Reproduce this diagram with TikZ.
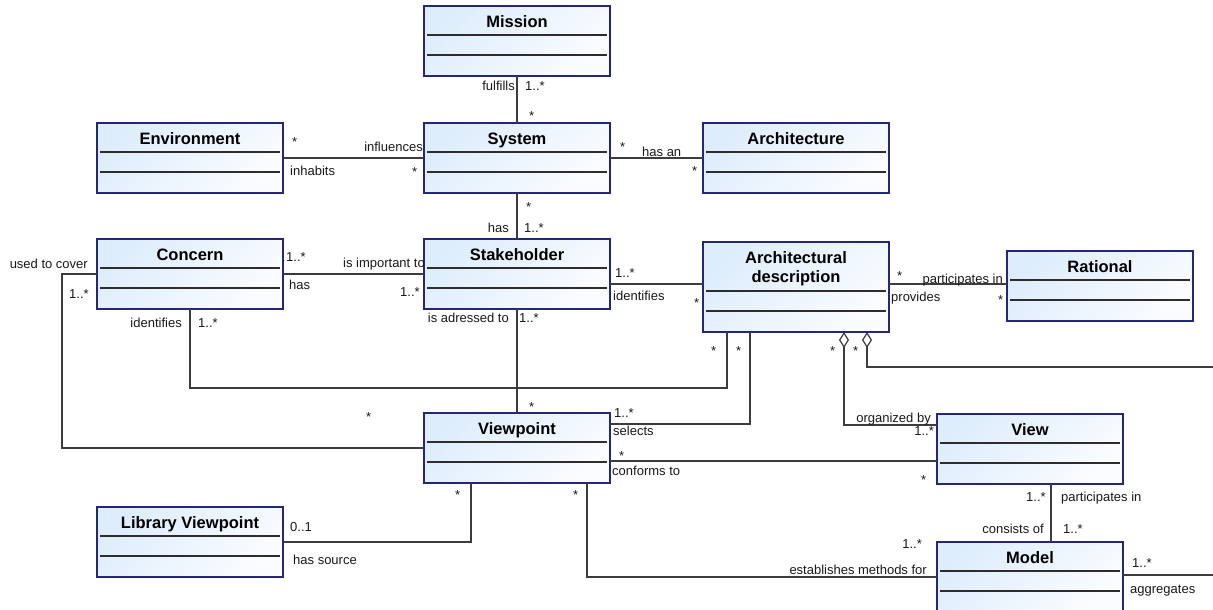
\documentclass[tikz,border=0pt]{standalone}
\usepackage{fontspec}
\setmainfont{Liberation Sans}
\usetikzlibrary{arrows.meta,calc}

\definecolor{clsborder}{RGB}{38,38,120}
\definecolor{clstop}{RGB}{222,237,252}
\definecolor{clsbot}{RGB}{250,252,255}
\definecolor{compcol}{RGB}{45,45,45}
\definecolor{wirecol}{RGB}{60,60,60}
\definecolor{lblcol}{RGB}{25,25,25}

\tikzset{
  umlclass/.style={draw=clsborder, line width=1.2pt, top color=clstop, bottom color=clsbot,
    shading angle=45, minimum width=186pt, minimum height=70pt, inner sep=0pt, outer sep=0pt,
    path picture={
      \draw[compcol, line width=1.4pt] ([xshift=3pt,yshift=-#1pt]path picture bounding box.north west)
        -- ([xshift=-3pt,yshift=-#1pt]path picture bounding box.north east);
      \draw[compcol, line width=1.4pt] ([xshift=3pt,yshift=-#1pt-20pt]path picture bounding box.north west)
        -- ([xshift=-3pt,yshift=-#1pt-20pt]path picture bounding box.north east);
    }},
  umlclass/.default=29,
  umltitle/.style={font=\fontsize{16.5}{19}\selectfont\bfseries, text=black, inner sep=0pt, align=center},
  lbl/.style={font=\fontsize{13}{13}\selectfont, text=lblcol, inner sep=0pt},
  wire/.style={draw=wirecol, line width=1.3pt},
  aggr/.style={wire, {Diamond[open, length=16pt, width=10pt, line width=1.2pt]}-}
}

\begin{document}
\begin{tikzpicture}[x=1pt,y=-1pt]
\clip (0,0) rectangle (1213,610);
\fill[white] (0,0) rectangle (1213,610);

% classes
\node[umlclass] (mission) at (517,41) {};
\node[umltitle, anchor=base] (mission-t) at ([yshift=-22pt]mission.north) {Mission};
\node[umlclass] (environment) at (190,158) {};
\node[umltitle, anchor=base] (environment-t) at ([yshift=-21pt]environment.north) {Environment};
\node[umlclass] (system) at (517,158) {};
\node[umltitle, anchor=base] (system-t) at ([yshift=-21pt]system.north) {System};
\node[umlclass] (architecture) at (796,158) {};
\node[umltitle, anchor=base] (architecture-t) at ([yshift=-21pt]architecture.north) {Architecture};
\node[umlclass] (concern) at (190,274) {};
\node[umltitle, anchor=base] (concern-t) at ([yshift=-21pt]concern.north) {Concern};
\node[umlclass] (stakeholder) at (517,274) {};
\node[umltitle, anchor=base] (stakeholder-t) at ([yshift=-21pt]stakeholder.north) {Stakeholder};
\node[umlclass=49, minimum height=90pt] (archdesc) at (796,287) {};
\node[umltitle] (archdesc-t) at ([yshift=-27pt]archdesc.north) {Architectural\\description};
\node[umlclass] (rational) at (1100,286) {};
\node[umltitle, anchor=base] (rational-t) at ([yshift=-21pt]rational.north) {Rational};
\node[umlclass] (viewpoint) at (517,448) {};
\node[umltitle, anchor=base] (viewpoint-t) at ([yshift=-21pt]viewpoint.north) {Viewpoint};
\node[umlclass] (view) at (1030,449) {};
\node[umltitle, anchor=base] (view-t) at ([yshift=-21pt]view.north) {View};
\node[umlclass] (libview) at (190,542) {};
\node[umltitle, anchor=base] (libview-t) at ([yshift=-21pt]libview.north) {Library Viewpoint};
\node[umlclass] (model) at (1030,577) {};
\node[umltitle, anchor=base] (model-t) at ([yshift=-21pt]model.north) {Model};

% associations
\coordinate (aggr-end) at (1213,367);
\coordinate (model-end) at (1213,575);
\draw[wire] (mission.south) -- (system.north);
\draw[wire] (environment.east) -- (system.west);
\draw[wire] (system.east) -- (architecture.west);
\draw[wire] (system.south) -- (stakeholder.north);
\draw[wire] (concern.east) -- (stakeholder.west);
\draw[wire] ([yshift=-10pt]stakeholder.east) coordinate (sh-r) -- (sh-r -| archdesc.west);
\draw[wire] ([yshift=3pt]archdesc.east) coordinate (ad-r) -- (ad-r -| rational.west);
\draw[wire] (stakeholder.south) -- (viewpoint.north);
\draw[wire] (concern.west) -- ++(-35,0) |- (viewpoint.west);
\draw[wire] (concern.south) -- ++(0,79) -| ([xshift=-69pt]archdesc.south);
\draw[wire] ([yshift=24pt]viewpoint.east) -| ([xshift=-46pt]archdesc.south);
\draw[aggr] ([xshift=48pt]archdesc.south) |- ([yshift=24pt]view.west);
\draw[aggr] ([xshift=71pt]archdesc.south) |- (aggr-end);
\draw[wire] ([yshift=-13pt]viewpoint.east) coordinate (vp-r) -- (vp-r -| view.west);
\draw[wire] ([xshift=21pt]view.south) -- ([xshift=21pt]model.north);
\draw[wire] ([xshift=-46pt]viewpoint.south) |- (libview.east);
\draw[wire] ([xshift=70pt]viewpoint.south) |- (model.west);
\draw[wire] (model-end -| model.east) -- (model-end);

% roles and multiplicities
\node[lbl, anchor=base east] (l-fulfills) at (515,91) {fulfills};
\node[lbl, anchor=base west] (m-mission) at (525,91) {1..*};
\node[lbl, anchor=base west] (m-system-t) at (529,120) {*};
\node[lbl, anchor=base west] (m-env) at (292,146) {*};
\node[lbl, anchor=base east] (l-influences) at (423,151) {influences};
\node[lbl, anchor=base west] (l-inhabits) at (290,175) {inhabits};
\node[lbl, anchor=base west] (m-system-l) at (412,176) {*};
\node[lbl, anchor=base west] (m-system-r) at (620,151) {*};
\node[lbl, anchor=base west] (l-hasan) at (642,156) {has an};
\node[lbl, anchor=base west] (m-arch) at (692,175) {*};
\node[lbl, anchor=base west] (m-system-b) at (526,211) {*};
\node[lbl, anchor=base east] (l-has) at (509,232) {has};
\node[lbl, anchor=base west] (m-sh-t) at (524,232) {1..*};
\node[lbl, anchor=base west] (m-concern-r) at (286,261) {1..*};
\node[lbl, anchor=base east] (l-important) at (425,267) {is important to};
\node[lbl, anchor=base west] (l-has2) at (289,289) {has};
\node[lbl, anchor=base west] (m-sh-l) at (400,296) {1..*};
\node[lbl, anchor=base east] (l-cover) at (88,268) {used to cover};
\node[lbl, anchor=base west] (m-concern-l) at (69,298) {1..*};
\node[lbl, anchor=base west] (m-cover-vp) at (366,421) {*};
\node[lbl, anchor=base east] (l-identifies) at (182,327) {identifies};
\node[lbl, anchor=base west] (m-concern-b) at (198,327) {1..*};
\node[lbl, anchor=base east] (l-adressed) at (509,322) {is adressed to};
\node[lbl, anchor=base west] (m-sh-b) at (519,322) {1..*};
\node[lbl, anchor=base west] (m-vp-t) at (529,411) {*};
\node[lbl, anchor=base west] (m-sh-r) at (615,277) {1..*};
\node[lbl, anchor=base west] (l-identifies2) at (613,300) {identifies};
\node[lbl, anchor=base west] (m-ad-l) at (694,307) {*};
\node[lbl, anchor=base west] (m-ad-r) at (897,280) {*};
\node[lbl, anchor=base east] (l-participates) at (1003,283) {participates in};
\node[lbl, anchor=base west] (l-provides) at (891,301) {provides};
\node[lbl, anchor=base west] (m-rational) at (998,304) {*};
\node[lbl, anchor=base west] (m-ad-b1) at (711,355) {*};
\node[lbl, anchor=base west] (m-ad-b2) at (736,355) {*};
\node[lbl, anchor=base west] (m-ad-b3) at (830,355) {*};
\node[lbl, anchor=base west] (m-ad-b4) at (853,355) {*};
\node[lbl, anchor=base west] (m-vp-r) at (614,417) {1..*};
\node[lbl, anchor=base west] (l-selects) at (613,435) {selects};
\node[lbl, anchor=base west] (m-vp-r2) at (619,460) {*};
\node[lbl, anchor=base west] (l-conforms) at (612,475) {conforms to};
\node[lbl, anchor=base west] (m-view-l) at (921,484) {*};
\node[lbl, anchor=base east] (l-organized) at (931,422) {organized by};
\node[lbl, anchor=base east] (m-view-t) at (934,435) {1..*};
\node[lbl, anchor=base west] (m-view-b) at (1026,501) {1..*};
\node[lbl, anchor=base west] (l-participates2) at (1061,501) {participates in};
\node[lbl, anchor=base east] (l-consists) at (1044,533) {consists of};
\node[lbl, anchor=base west] (m-model-t) at (1063,533) {1..*};
\node[lbl, anchor=base west] (m-model-r) at (1132,567) {1..*};
\node[lbl, anchor=base west] (l-aggregates) at (1130,593) {aggregates};
\node[lbl, anchor=base east] (m-model-l) at (922,548) {1..*};
\node[lbl, anchor=base east] (l-establishes) at (927,574) {establishes methods for};
\node[lbl, anchor=base west] (m-vp-b1) at (455,499) {*};
\node[lbl, anchor=base west] (m-vp-b2) at (573,499) {*};
\node[lbl, anchor=base west] (m-libview) at (290,531) {0..1};
\node[lbl, anchor=base west] (l-hassource) at (293,564) {has source};
\end{tikzpicture}
\end{document}
